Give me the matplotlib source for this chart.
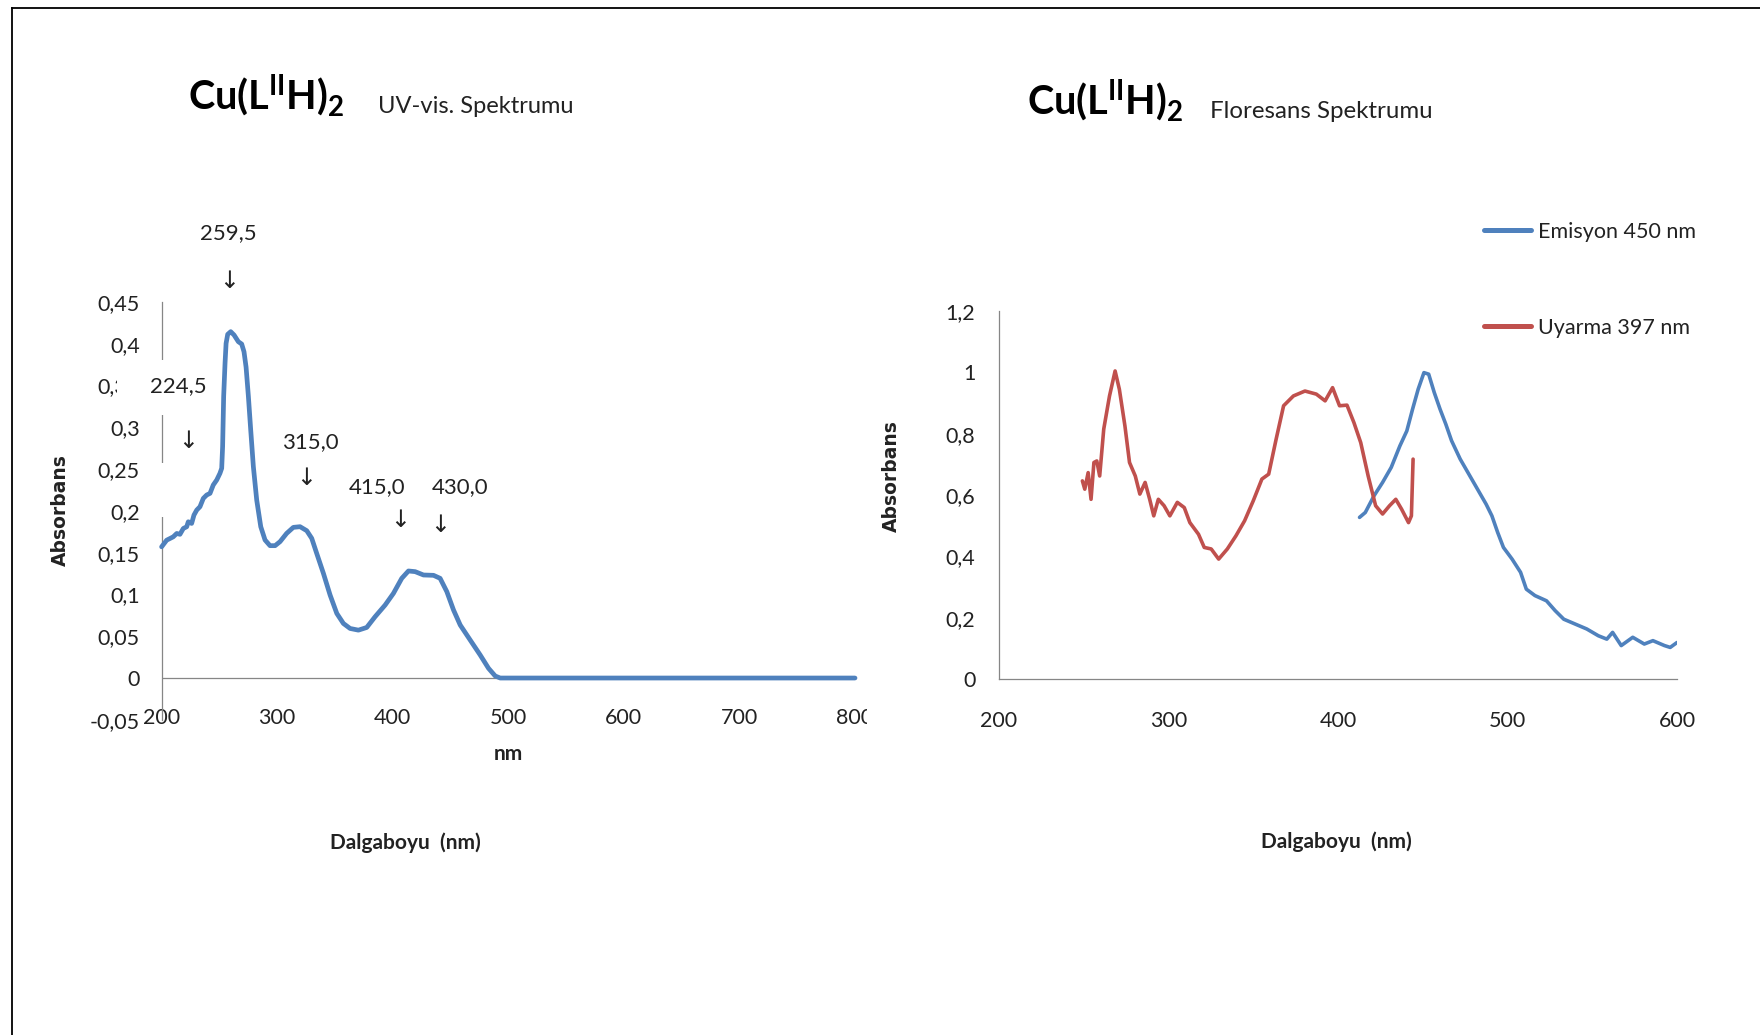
import matplotlib
matplotlib.use('Agg')
import matplotlib.pyplot as plt
from matplotlib.lines import Line2D
from matplotlib.patches import Rectangle
from matplotlib.transforms import Bbox
from matplotlib.ticker import FuncFormatter

plt.rcParams['font.family'] = ['Lato', 'DejaVu Sans']
plt.rcParams['mathtext.fontset'] = 'custom'
plt.rcParams['mathtext.rm'] = 'Lato'
plt.rcParams['mathtext.bf'] = 'Lato:bold'
plt.rcParams['mathtext.it'] = 'Lato:italic'

# ---------------- data ----------------
# UV-vis spectrum (left)
uv_nm = [200.0, 204.4, 207.3, 210.1, 213.1, 215.9, 218.8, 221.7, 223.1, 226.0,
         228.0, 230.4, 233.2, 236.1, 239.0, 241.9, 244.7, 247.7, 250.5, 252.0,
         252.8, 253.7, 254.9, 255.8, 257.2, 259.8, 262.7, 266.4, 269.3, 271.3,
         273.1, 275.1, 277.1, 279.4, 282.3, 285.8, 289.5, 293.8, 298.2, 302.5,
         308.2, 314.0, 319.8, 325.6, 329.9, 334.2, 340.0, 345.8, 351.6, 357.3,
         363.1, 370.3, 377.5, 384.7, 393.4, 400.6, 407.8, 413.6, 419.4, 426.6,
         435.3, 441.0, 446.8, 452.6, 458.4, 467.0, 475.7, 482.9, 488.7, 493.0,
         550.0, 600.0, 700.0, 800.0]
uv_abs = [0.157, 0.165, 0.167, 0.169, 0.173, 0.172, 0.179, 0.181, 0.187, 0.185,
          0.195, 0.201, 0.205, 0.215, 0.219, 0.221, 0.231, 0.237, 0.245, 0.251,
          0.277, 0.337, 0.377, 0.4005, 0.4113, 0.4145, 0.4105, 0.4025, 0.3997, 0.3905,
          0.372, 0.337, 0.297, 0.253, 0.213, 0.1811, 0.1652, 0.1584, 0.1584, 0.1632,
          0.1731, 0.1803, 0.1811, 0.1763, 0.1672, 0.1492, 0.1253, 0.0993, 0.0773, 0.0653,
          0.0593, 0.0573, 0.0605, 0.0733, 0.0873, 0.1013, 0.1193, 0.1281, 0.1273, 0.1233,
          0.1229, 0.1193, 0.1034, 0.0814, 0.0634, 0.0455, 0.0275, 0.0116, 0.0024, 0.0,
          0.0, 0.0, 0.0, 0.0]

# Fluorescence: emission (blue)
em_nm = [412.7, 416.1, 421.2, 426.3, 431.4, 436.5, 440.6, 444.0, 447.3, 450.7,
         453.5, 456.8, 460.2, 463.6, 467.0, 472.1, 477.2, 482.3, 487.4, 490.8,
         494.2, 497.6, 502.7, 507.7, 511.1, 516.2, 523.0, 528.1, 533.2, 540.0,
         546.8, 553.6, 558.6, 562.0, 567.1, 573.9, 580.7, 585.8, 592.6, 596.0,
         600.0]
em_int = [0.527, 0.543, 0.597, 0.641, 0.690, 0.760, 0.809, 0.880, 0.945, 0.999,
          0.994, 0.934, 0.880, 0.831, 0.777, 0.717, 0.668, 0.619, 0.570, 0.532,
          0.478, 0.429, 0.391, 0.348, 0.293, 0.272, 0.255, 0.223, 0.195, 0.179,
          0.163, 0.141, 0.130, 0.152, 0.109, 0.136, 0.114, 0.125, 0.109, 0.103,
          0.119]

# Fluorescence: excitation (red)
ex_nm = [249.2, 250.6, 252.6, 254.3, 256.0, 257.7, 259.4, 261.8, 265.2, 268.5,
         271.0, 274.3, 277.0, 280.4, 283.1, 286.2, 288.9, 291.3, 294.0, 297.4,
         300.8, 305.2, 309.3, 312.6, 317.7, 321.1, 325.2, 329.6, 334.7, 339.8,
         344.9, 350.0, 355.1, 359.1, 363.5, 367.9, 373.7, 380.5, 387.2, 392.4,
         396.8, 400.9, 405.3, 409.4, 413.4, 417.8, 422.2, 426.3, 430.4, 434.1,
         437.5, 441.6, 443.3, 444.3]
ex_int = [0.646, 0.619, 0.673, 0.586, 0.706, 0.711, 0.662, 0.815, 0.923, 1.0045,
          0.945, 0.825, 0.706, 0.662, 0.603, 0.641, 0.586, 0.532, 0.586, 0.565,
          0.532, 0.576, 0.559, 0.510, 0.472, 0.429, 0.424, 0.391, 0.424, 0.467,
          0.516, 0.581, 0.652, 0.668, 0.782, 0.891, 0.923, 0.939, 0.929, 0.907,
          0.950, 0.891, 0.893, 0.836, 0.771, 0.662, 0.565, 0.538, 0.565, 0.586,
          0.554, 0.510, 0.532, 0.717]

uv_xticks = [200, 300, 400, 500, 600, 700, 800]
uv_yticks = [-0.05, 0, 0.05, 0.1, 0.15, 0.2, 0.25, 0.3, 0.35, 0.4, 0.45]
fl_xticks = [200, 300, 400, 500, 600]
fl_yticks = [0, 0.2, 0.4, 0.6, 0.8, 1.0, 1.2]

peak_labels = ['259,5', '224,5', '315,0', '415,0', '430,0']
series_labels = ['Emisyon 450 nm', 'Uyarma 397 nm']

# ---------------- layout ----------------
W, H = 1760, 1035
def fx(px): return px / W
def fy(py): return 1 - py / H

BLUE = '#4F81BD'
RED = '#C0504D'
GRAY = '#868686'

fig = plt.figure(figsize=(17.6, 10.35), dpi=100)
fig.patch.set_facecolor('white')

# page border (top & left)
fig.add_artist(Line2D([fx(12), fx(12)], [0, fy(8)], transform=fig.transFigure, color='black', lw=1.3))
fig.add_artist(Line2D([fx(12), 1], [fy(8), fy(8)], transform=fig.transFigure, color='black', lw=1.3))

comma = FuncFormatter(lambda v, p: f'{v:g}'.replace('.', ','))

# ---------- left: UV-vis ----------
ax1 = fig.add_axes([fx(161.6), fy(719.8), fx(855) - fx(161.6), fy(302) - fy(719.8)])
ax1.set_facecolor('none')
ax1.set_xlim(200, 800)
ax1.set_ylim(-0.05, 0.45)
for s in ['top', 'right', 'bottom']:
    ax1.spines[s].set_visible(False)
ax1.spines['left'].set_color(GRAY)
ax1.spines['left'].set_linewidth(0.9)
ax1.axhline(0, color=GRAY, lw=0.9, zorder=1.5)
ax1.set_xticks(uv_xticks)
ax1.set_yticks(uv_yticks)
ax1.xaxis.set_major_formatter(FuncFormatter(lambda v, p: f'{v:g}'))
ax1.yaxis.set_major_formatter(comma)
ax1.tick_params(axis='y', length=0, pad=15.8, labelsize=15.5, labelcolor='#222222')
ax1.tick_params(axis='x', length=0, pad=-8.6, labelsize=15.5, labelcolor='#222222')
ax1.plot(uv_nm, uv_abs, color=BLUE, lw=3.4, zorder=3, solid_joinstyle='round',
         solid_capstyle='round', clip_on=False)

# white text boxes covering axis parts
ax1.add_patch(Rectangle((fx(117), fy(415)), fx(215) - fx(117), fy(360) - fy(415),
                        transform=fig.transFigure, facecolor='white', edgecolor='none',
                        zorder=2.6, clip_on=False))
ax1.add_patch(Rectangle((fx(145), fy(517)), fx(186) - fx(145), fy(463) - fy(517),
                        transform=fig.transFigure, facecolor='white', edgecolor='none',
                        zorder=2.6, clip_on=False))
# clip the end of the last x label like the original (white cover)
ax1.add_patch(Rectangle((fx(866.5), fy(735)), fx(900) - fx(866.5), fy(700) - fy(735),
                        transform=fig.transFigure, facecolor='white', edgecolor='none',
                        zorder=2.6, clip_on=False))

label_pos = [(257.5, 0.5326), (214.2, 0.349), (328.4, 0.2824), (386.3, 0.2286), (458.2, 0.2286)]
arrow_pos = [(258.3, 0.475), (222.9, 0.2836), (325.0, 0.239), (406.3, 0.189), (440.9, 0.183)]
for lab, (lx, ly), (axx, ayy) in zip(peak_labels, label_pos, arrow_pos):
    ax1.text(lx, ly, lab, ha='center', va='center', fontsize=16, color='#222222',
             zorder=4, clip_on=False)
    ax1.text(axx, ayy, '\u2193', ha='center', va='center', fontsize=17,
             family=['DejaVu Sans'], color='#222222', zorder=4, clip_on=False)

fig.text(fx(60), fy(510), 'Absorbans', rotation=90, ha='center', va='center',
         fontsize=13.5, fontweight='bold', family=['DejaVu Sans'], color='#222222')
fig.text(fx(508), fy(754), 'nm', ha='center', va='center', fontsize=15,
         fontweight='bold', color='#222222')
fig.text(fx(405), fy(843), 'Dalgaboyu  (nm)', ha='center', va='center', fontsize=15,
         fontweight='bold', color='#222222')

# ---------- right: Fluorescence ----------
ax2 = fig.add_axes([fx(999), fy(679), fx(1677) - fx(999), fy(311) - fy(679)])
ax2.set_facecolor('none')
ax2.set_xlim(200, 600)
ax2.set_ylim(0, 1.2)
for s in ['top', 'right']:
    ax2.spines[s].set_visible(False)
for s in ['left', 'bottom']:
    ax2.spines[s].set_color(GRAY)
    ax2.spines[s].set_linewidth(0.9)
ax2.set_xticks(fl_xticks)
ax2.set_yticks(fl_yticks)
ax2.xaxis.set_major_formatter(FuncFormatter(lambda v, p: f'{v:g}'))
ax2.yaxis.set_major_formatter(comma)
ax2.tick_params(axis='y', length=0, pad=17, labelsize=15.5, labelcolor='#222222')
ax2.tick_params(axis='x', length=0, pad=23, labelsize=15.5, labelcolor='#222222')
l_em, = ax2.plot(em_nm, em_int, color=BLUE, lw=2.6, zorder=3, solid_joinstyle='round',
                 solid_capstyle='round', label=series_labels[0])
l_ex, = ax2.plot(ex_nm, ex_int, color=RED, lw=2.6, zorder=3, solid_joinstyle='round',
                 solid_capstyle='round', label=series_labels[1])

leg = ax2.legend(handles=[l_em, l_ex], loc='upper left', bbox_to_anchor=(fx(1484), fy(222)),
                 bbox_transform=fig.transFigure, frameon=False, borderpad=0, borderaxespad=0,
                 handlelength=2.2, handletextpad=0.3, labelspacing=3.52, fontsize=15.5)
for t in leg.get_texts():
    t.set_color('#222222')
for lh in leg.get_lines():
    lh.set_linewidth(3.6)

fig.text(fx(891), fy(476), 'Absorbans', rotation=90, ha='center', va='center',
         fontsize=13.5, fontweight='bold', family=['DejaVu Sans'], color='#222222')
fig.text(fx(1336), fy(842), 'Dalgaboyu  (nm)', ha='center', va='center', fontsize=15,
         fontweight='bold', color='#222222')

# ---------- titles ----------
title_main = r'Cu(L$^{\mathbf{II}}$H)$_{\mathbf{2}}$'
fig.text(fx(188), fy(110), title_main, ha='left', va='baseline', fontsize=28.5,
         fontweight='bold', color='black')
fig.text(fx(378), fy(113), 'UV-vis. Spektrumu', ha='left', va='baseline', fontsize=17,
         color='#222222')
fig.text(fx(1027), fy(115), title_main, ha='left', va='baseline', fontsize=28.5,
         fontweight='bold', color='black')
fig.text(fx(1210), fy(118), 'Floresans Spektrumu', ha='left', va='baseline', fontsize=17.3,
         color='#222222')

fig.savefig('out.png', dpi=100, facecolor='white')
